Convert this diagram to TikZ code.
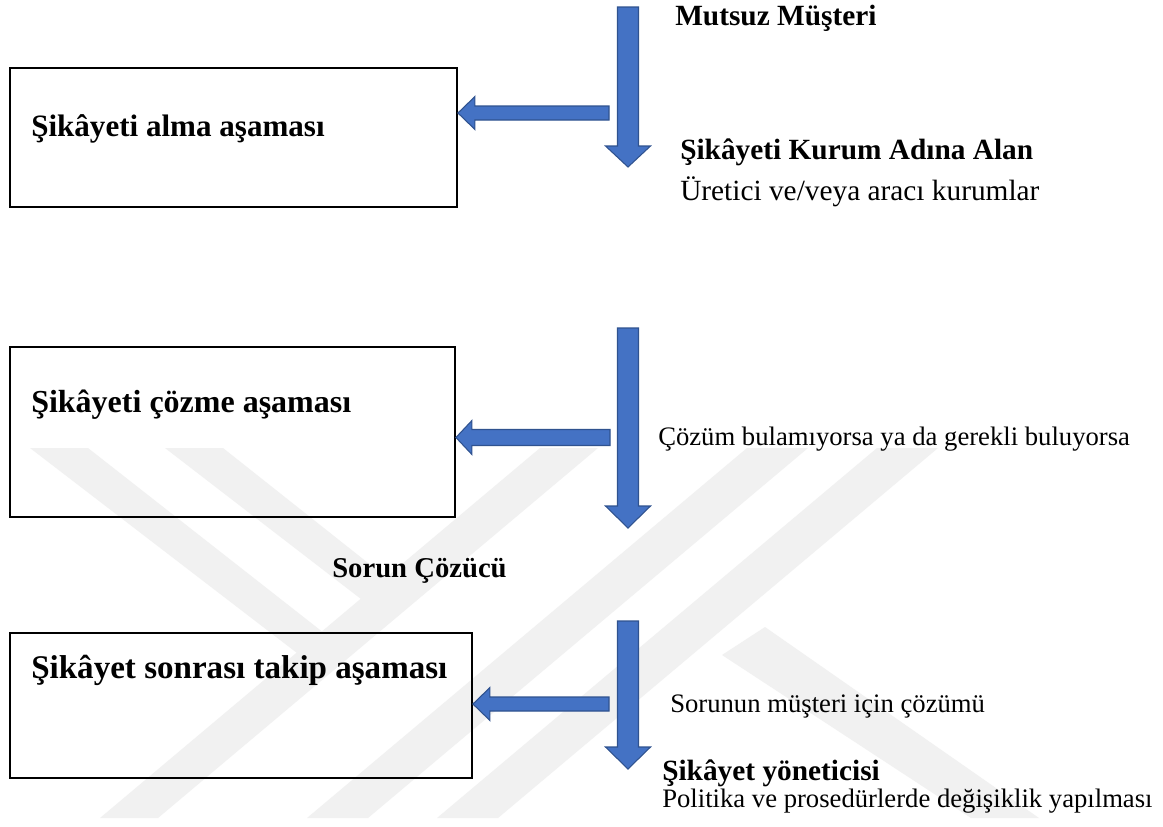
\documentclass[tikz,border=0pt]{standalone}
\usepackage{fontspec}
\setmainfont{Liberation Serif}
\usetikzlibrary{calc,fit}

\definecolor{arrowblue}{HTML}{4472C4}
\definecolor{arrowedge}{HTML}{2F528F}
\definecolor{wmark}{HTML}{F1F1F1}

% block arrow pointing left: start, tip, shaft half-width, head half-width, head length
\newcommand\leftblock[5]{%
  \filldraw[blockarrow] ($(#1)+(0,-#3)$) -- ($(#2)+(#5,-#3)$) -- ($(#2)+(#5,-#4)$)
    -- (#2) -- ($(#2)+(#5,#4)$) -- ($(#2)+(#5,#3)$) -- ($(#1)+(0,#3)$) -- cycle;}
% block arrow pointing down: start, tip, shaft half-width, head half-width, head length
\newcommand\downblock[5]{%
  \filldraw[blockarrow] ($(#1)+(-#3,0)$) -- ($(#2)+(-#3,-#5)$) -- ($(#2)+(-#4,-#5)$)
    -- (#2) -- ($(#2)+(#4,-#5)$) -- ($(#2)+(#3,-#5)$) -- ($(#1)+(#3,0)$) -- cycle;}

\begin{document}
\begin{tikzpicture}[x=0.75pt, y=-0.75pt,
  stagebox/.style={draw=black, line width=1.4pt, inner sep=0pt},
  blockarrow/.style={fill=arrowblue, draw=arrowedge, line width=0.8pt, line join=miter},
  boxtext/.style={anchor=base west, inner sep=0pt, font=\bfseries\fontsize{24}{28}\selectfont},
  boldlabel/.style={anchor=base west, inner sep=0pt, font=\bfseries\fontsize{22}{26}\selectfont},
  plainlabel/.style={anchor=base west, inner sep=0pt, font=\fontsize{20}{24}\selectfont},
  wmband/.style={fill=wmark, draw=none}]

\useasboundingbox (0,0) rectangle (1163,826);
\fill[white] (0,0) rectangle (1163,826);

% faint background logo bands
\fill[wmband] (30,448) -- (88,448) -- (352,655) -- (297,653) -- cycle;
\fill[wmband] (165,448) -- (223,448) -- (416,601) -- (361,599) -- cycle;
\fill[wmband] (540,448) -- (598,448) -- (158,818) -- (100,818) -- cycle;
\fill[wmband] (747,448) -- (808,448) -- (368,818) -- (307,818) -- cycle;
\fill[wmband] (877,448) -- (938,448) -- (498,818) -- (437,818) -- cycle;
\fill[wmband] (722,655) -- (765,627) -- (1039,818) -- (971,818) -- cycle;

% stage boxes
\node[stagebox, fit={(10,68) (457,207)}] (b1) {};
\node[stagebox, fit={(10,347) (455,517)}] (b2) {};
\node[stagebox, fit={(10,633) (472,778)}] (b3) {};

\node[boxtext, font=\bfseries\fontsize{23.3}{27}\selectfont] (t1) at (31,136) {Şikâyeti alma aşaması};
\node[boxtext] (t2) at (31,412) {Şikâyeti çözme aşaması};
\node[boxtext, font=\bfseries\fontsize{24.8}{28}\selectfont] (t3) at (31,678) {Şikâyet sonrası takip aşaması};

% vertical flow arrows
\coordinate (v1s) at (628,7);   \coordinate (v1e) at (628,167);
\coordinate (v2s) at (628,328); \coordinate (v2e) at (628,528);
\coordinate (v3s) at (628,621); \coordinate (v3e) at (628,769);
\downblock{v1s}{v1e}{10.5}{22.5}{21}
\downblock{v2s}{v2e}{10.5}{22.5}{22}
\downblock{v3s}{v3e}{10.5}{22.5}{22}

% arrows into the stage boxes
\coordinate (h1s) at (609,113); \coordinate (h1e) at (b1.east |- h1s);
\coordinate (h2s) at (610,437.5); \coordinate (h2e) at (b2.east |- h2s);
\coordinate (h3s) at (609,704); \coordinate (h3e) at (b3.east |- h3s);
\leftblock{h1s}{h1e}{7}{16.5}{17}
\leftblock{h2s}{h2e}{8}{17}{16}
\leftblock{h3s}{h3e}{7}{16.5}{17}

% labels
\node[boldlabel] (l1) at (675,25) {Mutsuz Müşteri};
\node[boldlabel] (l2) at (680,159) {Şikâyeti Kurum Adına Alan};
\node[plainlabel, font=\fontsize{22}{26}\selectfont] (l3) at (680,200) {Üretici ve/veya aracı kurumlar};
\node[plainlabel] (l4) at (658,445) {Çözüm bulamıyorsa ya da gerekli buluyorsa};
\node[boldlabel, font=\bfseries\fontsize{21.5}{26}\selectfont] (l5) at (332,577) {Sorun Çözücü};
\node[plainlabel] (l6) at (670,712) {Sorunun müşteri için çözümü};
\node[boldlabel] (l7) at (662,780) {Şikâyet yöneticisi};
\node[plainlabel] (l8) at (662,807) {Politika ve prosedürlerde değişiklik yapılması};

\end{tikzpicture}
\end{document}
